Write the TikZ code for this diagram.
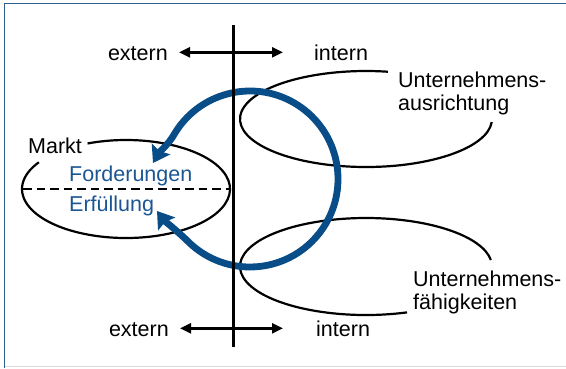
\documentclass[tikz,border=0pt]{standalone}
\usepackage{fontspec}
\setmainfont{Liberation Sans}
\usetikzlibrary{arrows.meta}
\definecolor{frameBlue}{RGB}{45,95,145}
\definecolor{cycleBlue}{RGB}{8,76,136}
\definecolor{labelBlue}{RGB}{28,86,146}
\definecolor{edgeGray}{RGB}{218,218,218}

\begin{document}
\begin{tikzpicture}[x=1pt, y=-1pt,
  every node/.style={font=\fontsize{21.5pt}{24pt}\selectfont, inner sep=0pt},
  dirarrow/.style={line width=2.4pt, {Triangle[length=11pt,width=10pt]}-{Triangle[length=11pt,width=10pt]}},
  ring/.style={line width=2.2pt},
  cyclearrow/.style={color=cycleBlue, line width=6.8pt, {Stealth[length=16pt,width=21pt,inset=2.5pt]}-{Stealth[length=16pt,width=21pt,inset=2.5pt]}}]
  \useasboundingbox (0,0) rectangle (566,368);
  % Frame
  \draw[edgeGray, line width=1pt] (4.5,366.8) -- (566,366.8);
  \draw[frameBlue, line width=1.6pt] (4.5,368) -- (4.5,3.5) -- (566,3.5);
  % extern / intern
  \node[anchor=base east] (extTop) at (168,60) {extern};
  \node[anchor=base west] (intTop) at (314,60) {intern};
  \node[anchor=base east] (extBot) at (169,336) {extern};
  \node[anchor=base west] (intBot) at (316,336) {intern};
  \coordinate (extTopTip) at (179,52.3);
  \coordinate (intTopTip) at (283,52.3);
  \coordinate (extBotTip) at (180,328.3);
  \coordinate (intBotTip) at (283,328.3);
  \draw[dirarrow] (extTopTip) -- (intTopTip);
  \draw[dirarrow] (extBotTip) -- (intBotTip);
  % Markt
  \coordinate (marketC) at (126,189);
  \coordinate (marketW) at (23,189.3);
  \coordinate (marketE) at (230,189.3);
  \draw[ring] (marketC) ++(248.3:104 and 49) arc[start angle=248.3, end angle=573.1, x radius=104, y radius=49];
  \draw[line width=2.2pt, dash pattern=on 8.5pt off 5pt] (marketW) -- (marketE);
  \node[anchor=base west] (markt) at (28,153) {Markt};
  \node[anchor=base west, text=labelBlue] (demand) at (69,181.5) {Forderungen};
  \node[anchor=base west, text=labelBlue] (supply) at (69,211.5) {Erfüllung};
  % Unternehmen
  \coordinate (orientC) at (366,119);
  \coordinate (abilityC) at (366,266.5);
  \draw[ring] (orientC) ++(3.6:126 and 48) arc[start angle=3.6, end angle=280, x radius=126, y radius=48];
  \draw[ring] (abilityC) ++(71:126 and 48.5) arc[start angle=71, end angle=352.3, x radius=126, y radius=48.5];
  \node[anchor=base west] (orientA) at (398,87) {Unternehmens-};
  \node[anchor=base west] (orientB) at (398,110) {ausrichtung};
  \node[anchor=base west] (abilityA) at (413,286) {Unternehmens-};
  \node[anchor=base west] (abilityB) at (413,309) {fähigkeiten};
  % cycle
  \coordinate (cycleC) at (250,179);
  \coordinate (demandTip) at (153,163);
  \coordinate (supplyTip) at (157,211);
  \draw[cyclearrow] (demandTip) .. controls (159,152.6) and (168.8,143.7) .. ([shift={(210:88)}]cycleC)
    arc[start angle=210, end angle=495, radius=88]
    .. controls (180.7,234.1) and (163.6,219.8) .. (supplyTip);
  % divider
  \coordinate (divTop) at (233.3,25);
  \coordinate (divBot) at (233.3,347);
  \draw[line width=2.6pt] (divTop) -- (divBot);
\end{tikzpicture}
\end{document}
